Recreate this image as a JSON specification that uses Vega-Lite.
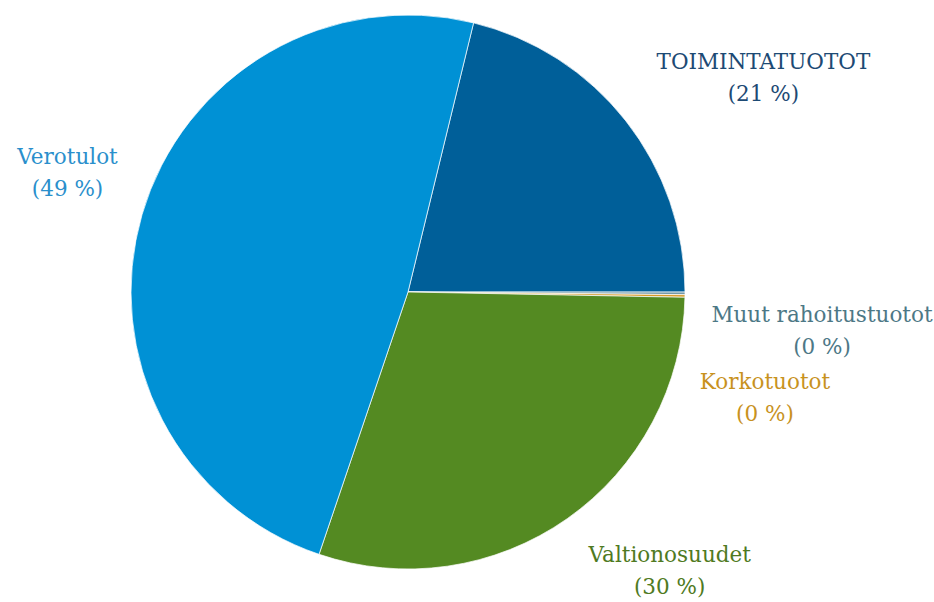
{
  "$schema": "https://vega.github.io/schema/vega-lite/v6.json",
  "width": 816,
  "height": 584,
  "autosize": {"type": "none"},
  "padding": {"left": 0, "top": 0, "right": 118, "bottom": 18},
  "background": "white",
  "data": {
    "values": [
      {"order": 1, "category": "TOIMINTATUOTOT", "value": 21.2},
      {"order": 2, "category": "Muut rahoitustuotot", "value": 0.15},
      {"order": 3, "category": "Korkotuotot", "value": 0.15},
      {"order": 4, "category": "Valtionosuudet", "value": 29.9},
      {"order": 5, "category": "Verotulot", "value": 48.6}
    ]
  },
  "transform": [
    {"calculate": "[datum.category, '(' + format(datum.value, '.0f') + ' %)']", "as": "label"}
  ],
  "encoding": {
    "theta": {"field": "value", "type": "quantitative", "stack": true, "scale": {"range": [0.239, 6.5222]}},
    "order": {"field": "order", "type": "ordinal"}
  },
  "layer": [
    {
      "mark": {"type": "arc", "outerRadius": 277, "stroke": "#ffffff", "strokeWidth": 1, "strokeOpacity": 0.7},
      "encoding": {
        "color": {
          "field": "category", "type": "nominal", "legend": null,
          "scale": {
            "domain": ["TOIMINTATUOTOT", "Muut rahoitustuotot", "Korkotuotot", "Valtionosuudet", "Verotulot"],
            "range": ["#005f99", "#7299a8", "#d69b28", "#548a22", "#0091d5"]
          }
        }
      }
    },
    {
      "mark": {"type": "text", "font": "DejaVu Serif", "fontSize": 21.5, "lineHeight": 32, "align": "center", "baseline": "middle", "color": "#1d4a74", "radius": 340, "dx": 88, "dy": -19},
      "encoding": {"text": {"condition": {"test": "datum.category == 'TOIMINTATUOTOT'", "field": "label"}, "value": ""}}
    },
    {
      "mark": {"type": "text", "font": "DejaVu Serif", "fontSize": 21.5, "lineHeight": 32, "align": "center", "baseline": "middle", "color": "#4d7886", "radius": 350, "dx": 64, "dy": 22},
      "encoding": {"text": {"condition": {"test": "datum.category == 'Muut rahoitustuotot'", "field": "label"}, "value": ""}}
    },
    {
      "mark": {"type": "text", "font": "DejaVu Serif", "fontSize": 21.5, "lineHeight": 32, "align": "center", "baseline": "middle", "color": "#c8921e", "radius": 300, "dx": 57, "dy": 87},
      "encoding": {"text": {"condition": {"test": "datum.category == 'Korkotuotot'", "field": "label"}, "value": ""}}
    },
    {
      "mark": {"type": "text", "font": "DejaVu Serif", "fontSize": 21.5, "lineHeight": 32, "align": "center", "baseline": "middle", "color": "#4f7a22", "radius": 330, "dx": 72, "dy": -6},
      "encoding": {"text": {"condition": {"test": "datum.category == 'Valtionosuudet'", "field": "label"}, "value": ""}}
    },
    {
      "mark": {"type": "text", "font": "DejaVu Serif", "fontSize": 21.5, "lineHeight": 32, "align": "center", "baseline": "middle", "color": "#2a8fcc", "radius": 340, "dx": -14, "dy": -39},
      "encoding": {"text": {"condition": {"test": "datum.category == 'Verotulot'", "field": "label"}, "value": ""}}
    }
  ],
  "config": {"view": {"stroke": null}}
}
